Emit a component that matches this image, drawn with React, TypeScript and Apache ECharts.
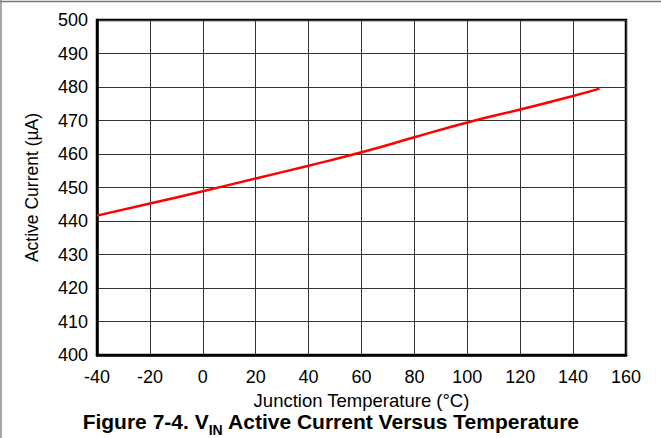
import React, { useEffect, useRef } from "react";
import * as echarts from "echarts";

const temperatures = [-40, -20, 0, 20, 40, 60, 80, 100, 120, 140, 150];
const activeCurrent = [441.6, 445.2, 448.9, 452.7, 456.5, 460.5, 465.0, 469.4, 473.3, 477.3, 479.5];

const xMin = -40;
const xMax = 160;
const xStep = 20;
const yMin = 400;
const yMax = 500;
const yStep = 10;

const xAxisTitle = "Junction Temperature (°C)";
const yAxisTitle = "Active Current (µA)";
const captionParts = ["Figure 7-4. V", "IN", " Active Current Versus Temperature"];

const FONT = "'Liberation Sans', Arial, Helvetica, sans-serif";

export default function App() {
  const ref = useRef<HTMLDivElement>(null);
  useEffect(() => {
    if (!ref.current) return;
    const chart = echarts.init(ref.current, null, { renderer: "svg" });
    const data = temperatures.map((t, i) => [t, activeCurrent[i]]);
    chart.setOption({
      animation: false,
      backgroundColor: "#ffffff",
      grid: {
        left: 97,
        right: 35,
        top: 20,
        bottom: 83,
        show: true,
        borderColor: "#000",
        borderWidth: 2.5,
        backgroundColor: "transparent",
      },
      xAxis: {
        type: "value",
        min: xMin,
        max: xMax,
        interval: xStep,
        name: xAxisTitle,
        nameLocation: "middle",
        nameGap: 34,
        nameTextStyle: { fontFamily: FONT, fontSize: 18.5, color: "#000" },
        axisLine: { show: true, onZero: false, lineStyle: { color: "#000", width: 2.5 } },
        axisTick: { show: false },
        axisLabel: { fontFamily: FONT, fontSize: 18, color: "#000", margin: 13 },
        splitLine: { show: true, lineStyle: { color: "#333", width: 1 } },
      },
      yAxis: {
        type: "value",
        min: yMin,
        max: yMax,
        interval: yStep,
        name: yAxisTitle,
        nameLocation: "middle",
        nameGap: 56,
        nameRotate: 90,
        nameTextStyle: { fontFamily: FONT, fontSize: 17.5, color: "#000" },
        axisLine: { show: true, onZero: false, lineStyle: { color: "#000", width: 2.5 } },
        axisTick: { show: false },
        axisLabel: { fontFamily: FONT, fontSize: 18, color: "#000", margin: 9 },
        splitLine: { show: true, lineStyle: { color: "#333", width: 1 } },
      },
      series: [
        {
          type: "line",
          data,
          smooth: true,
          showSymbol: false,
          lineStyle: { color: "#ff0000", width: 2.5 },
          itemStyle: { color: "#ff0000" },
        },
      ],
      graphic: [
        {
          type: "line",
          shape: { x1: 0, y1: 1.5, x2: 661, y2: 1.5 },
          style: { stroke: "#777", lineWidth: 1.5 },
        },
        {
          type: "line",
          shape: { x1: 1, y1: 0, x2: 1, y2: 438 },
          style: { stroke: "#888", lineWidth: 1.5 },
        },
        {
          type: "text",
          x: 331,
          y: 420,
          style: {
            text: `{a|${captionParts[0]}}{b|${captionParts[1]}}{a|${captionParts[2]}}`,
            align: "center",
            verticalAlign: "middle",
            rich: {
              a: { fontFamily: FONT, fontSize: 21, fontWeight: "bold", fill: "#000", verticalAlign: "bottom", lineHeight: 24 },
              b: { fontFamily: FONT, fontSize: 14, fontWeight: "bold", fill: "#000", verticalAlign: "bottom", lineHeight: 16, padding: [0, 0, -5, 0] },
            },
          },
        },
      ],
    });
    return () => chart.dispose();
  }, []);
  return (
    <div
      ref={ref}
      style={{ position: "absolute", left: 0, top: 0, width: 661, height: 438 }}
    />
  );
}
